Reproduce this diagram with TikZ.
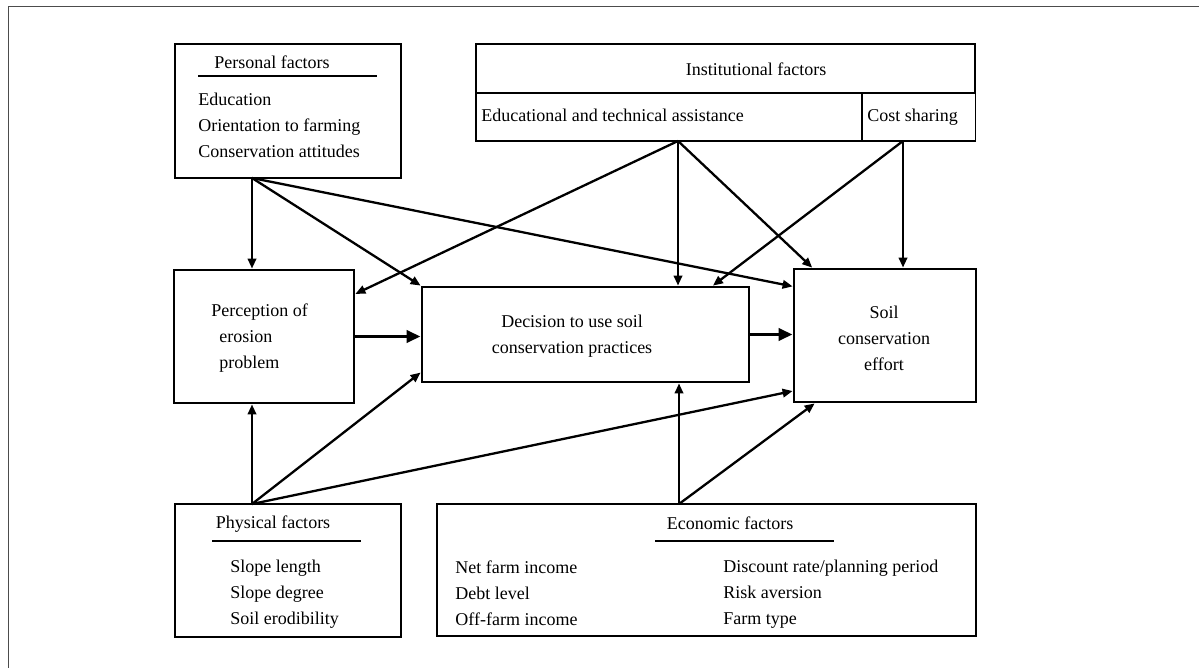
\documentclass[tikz,border=0pt]{standalone}
\usepackage{fontspec}
\setmainfont{Liberation Serif}
\usetikzlibrary{arrows.meta, calc}

\begin{document}
\begin{tikzpicture}[
  x=0.5pt, y=-0.5pt,
  font=\fontsize{9}{13}\selectfont,
  fbox/.style={draw, line width=0.65pt, inner sep=0pt},
  mbox/.style={draw, line width=1.4pt, inner sep=0pt},
  hd/.style={inner sep=0pt},
  it/.style={inner sep=0pt, align=left, anchor=west},
  arr/.style={line width=1.15pt, -{Triangle[length=5pt, width=4.2pt]}},
  bigarr/.style={line width=1.9pt, -{Triangle[length=7pt, width=6pt]}}
]
  \useasboundingbox (0,0) rectangle (1199,668);
  \draw[black!70, line width=0.5pt] (8,668) -- (8,7) -- (1199,7);

  % factor boxes
  \node[fbox, minimum width=113pt, minimum height=67pt] (pers) at (288,111) {};
  \node[fbox, minimum width=249.5pt, minimum height=24.5pt] (inst) at (725.5,68.5) {};
  \node[fbox, minimum width=193pt, minimum height=24pt] (edu) at (669,117) {};
  \node[fbox, minimum width=56.5pt, minimum height=24pt] (cost) at (918.75,117) {};
  \node[fbox, minimum width=113pt, minimum height=66.5pt] (phys) at (288,570.5) {};
  \node[fbox, minimum width=269.5pt, minimum height=66pt] (econ) at (706.5,570) {};

  % main boxes
  \node[mbox, minimum width=90pt, minimum height=66.5pt] (perc) at (264,336.5) {};
  \node[mbox, minimum width=163.5pt, minimum height=47.5pt] (dec) at (585.5,334.5) {};
  \node[mbox, minimum width=91pt, minimum height=66.5pt] (soil) at (885,335.5) {};

  % texts
  \node[hd] (persh) at (272,62) {Personal factors};
  \draw[line width=0.65pt] (198,76) -- (377,76);
  \node[it] (persi) at (198,125) {Education\\Orientation to farming\\Conservation attitudes};

  \node[hd] (insth) at (756,69) {Institutional factors};
  \node[it, anchor=base west] (edut) at (481,122) {Educational and technical assistance};
  \node[it, anchor=base west] (costt) at (867,122) {Cost sharing};

  \node[hd] (physh) at (273,524) {Physical factors};
  \draw[line width=0.65pt] (212,541) -- (361,541);
  \node[it] (physi) at (230,594) {Slope length\\Slope degree\\Soil erodibility};

  \node[hd] (econh) at (730,523) {Economic factors};
  \draw[line width=0.65pt] (655,541) -- (834,541);
  \node[it] (econa) at (455,593) {Net farm income\\Debt level\\Off-farm income};
  \node[it] (econb) at (723,594) {Discount rate/planning period\\Risk aversion\\Farm type};

  \node[it] (perct) at (211,338) {Perception of\\\hspace*{4pt}erosion\\\hspace*{4pt}problem};
  \node[hd, align=center] (dect) at (572,336) {Decision to use soil\\conservation practices};
  \node[hd, align=center] (soilt) at (884,338) {Soil\\conservation\\effort};

  % arrow sources
  \coordinate (persout) at (252,178);
  \coordinate (eduout) at (678,141);
  \coordinate (costout) at (903,141);
  \coordinate (physout) at (252,504);
  \coordinate (econout) at (679,504);

  % personal factors
  \draw[arr] (persout) -- (perc.north -| persout);
  \draw[arr] (persout) -- (dec.north west);
  \draw[arr] (persout) -- (soil.152);

  % institutional factors
  \draw[arr] (eduout) -- (perc.25);
  \draw[arr] (eduout) -- (dec.north -| eduout);
  \draw[arr] (eduout) -- (soil.137);
  \draw[arr] (costout) -- (dec.21);
  \draw[arr] (costout) -- (soil.north -| costout);

  % main chain
  \draw[bigarr] (perc.east) -- (perc.east -| dec.west);
  \draw[bigarr] (dec.east) -- (dec.east -| soil.west);

  % physical factors
  \draw[arr] (physout) -- (perc.south -| physout);
  \draw[arr] (physout) -- (dec.193);
  \draw[arr] (physout) -- (soil.211);

  % economic factors
  \draw[arr] (econout) -- (dec.south -| econout);
  \draw[arr] (econout) -- (soil.224);
\end{tikzpicture}
\end{document}
